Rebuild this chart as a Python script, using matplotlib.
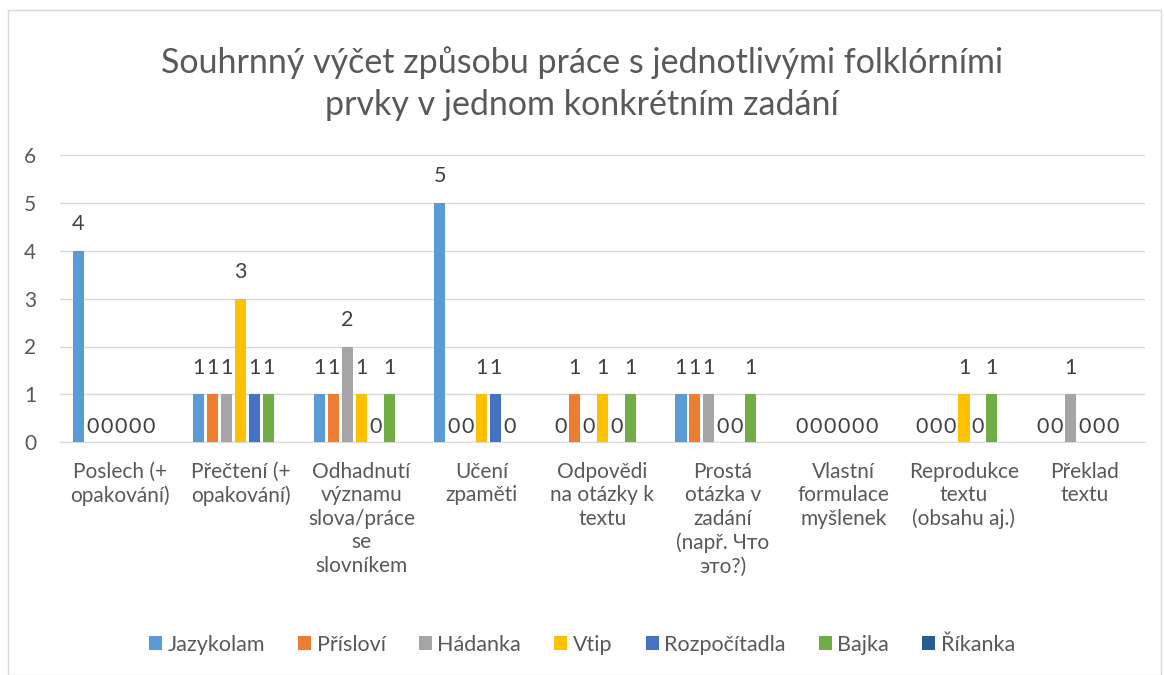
import numpy as np
import matplotlib.pyplot as plt
from matplotlib.patches import Rectangle

plt.rcParams['font.family'] = ['Lato', 'DejaVu Sans']

# categories (as wrapped in the reference)
categories = [
    "Poslech (+\nopakování)",
    "Přečtení (+\nopakování)",
    "Odhadnutí\nvýznamu\nslova/práce\nse\nslovníkem",
    "Učení\nzpaměti",
    "Odpovědi\nna otázky k\ntextu",
    "Prostá\notázka v\nzadání\n(např. Что\nэто?)",
    "Vlastní\nformulace\nmyšlenek",
    "Reprodukce\ntextu\n(obsahu aj.)",
    "Překlad\ntextu",
]

series_names = ["Jazykolam", "Přísloví", "Hádanka", "Vtip", "Rozpočítadla", "Bajka", "Říkanka"]
colors = ["#5B9BD5", "#ED7D31", "#A5A5A5", "#FFC000", "#4472C4", "#70AD47", "#255E91"]

jazykolam    = [4, 1, 1, 5, 0, 1, 0, 0, 0]
prislovi     = [0, 1, 1, 0, 1, 1, 0, 0, 0]
hadanka      = [0, 1, 2, 0, 0, 1, 0, 0, 1]
vtip         = [0, 3, 1, 1, 1, 0, 0, 1, 0]
rozpocitadla = [0, 1, 0, 1, 0, 0, 0, 0, 0]
bajka        = [0, 1, 1, 0, 1, 1, 0, 1, 0]
rikanka      = [np.nan] * 9   # no data in the source

values = [jazykolam, prislovi, hadanka, vtip, rozpocitadla, bajka, rikanka]

title = "Souhrnný výčet způsobu práce s jednotlivými folklórními\nprvky v jednom konkrétním zadání"

text_col = "#595959"
label_col = "#404040"

fig = plt.figure(figsize=(11.64, 6.75), dpi=100)
ax = fig.add_axes([0.0515, 0.345, 0.932, 0.425])

x = np.arange(len(categories))
step = 0.116
width = 0.092
n = len(series_names)

for i, (name, vals, c) in enumerate(zip(series_names, values, colors)):
    pos = x + (i - (n - 1) / 2) * step
    vals = np.array(vals, dtype=float)
    ax.bar(pos, np.nan_to_num(vals), width, color=c, label=name, zorder=3)
    for p, v in zip(pos, vals):
        if np.isnan(v):
            continue
        off = 4 if v == 0 else 12
        ax.annotate(f"{int(v)}", (p, v), xytext=(0, off), textcoords="offset points",
                    ha="center", va="bottom", fontsize=15.5, color=label_col)

ax.set_xlim(-0.5, len(categories) - 0.5)
ax.set_ylim(0, 6)
ax.set_yticks(range(0, 7))
ax.yaxis.grid(True, color="#d9d9d9", linewidth=1, zorder=0)
ax.set_axisbelow(True)
for s in ["top", "right", "left"]:
    ax.spines[s].set_visible(False)
ax.spines["bottom"].set_color("#d9d9d9")
ax.tick_params(axis="both", length=0, colors=text_col, labelsize=15)
ax.tick_params(axis="y", pad=17)
ax.set_xticks(x)
ax.set_xticklabels(categories, linespacing=1.22, va="top")
ax.tick_params(axis="x", pad=14)

fig.text(0.5, 0.876, title, ha="center", va="center", fontsize=24.5, color=text_col,
         linespacing=1.4)

fig.legend(loc="center", bbox_to_anchor=(0.5, 0.045), ncol=7, frameon=False,
           fontsize=15.5, handlelength=0.6, handleheight=0.6, handletextpad=0.25,
           columnspacing=1.55, labelcolor=text_col)

# outer chart border
fig.patches.append(Rectangle((0.007, 0.0), 0.99, 0.985, transform=fig.transFigure,
                             fill=False, edgecolor="#d9d9d9", linewidth=1))

fig.savefig("out.png", dpi=100)
